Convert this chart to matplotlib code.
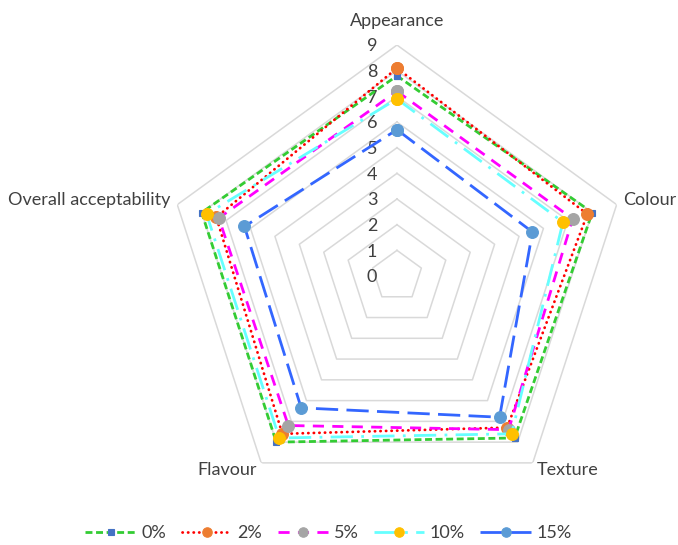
import numpy as np
import matplotlib.pyplot as plt

categories = ["Appearance", "Colour", "Texture", "Flavour", "Overall acceptability"]
series_names = ["0%", "2%", "5%", "10%", "15%"]
scores = {
    "0%": [7.8, 8.0, 7.8, 8.0, 8.0],
    "2%": [8.1, 7.8, 7.3, 7.6, 7.4],
    "5%": [7.2, 7.2, 7.4, 7.2, 7.3],
    "10%": [6.9, 6.8, 7.6, 7.8, 7.8],
    "15%": [5.7, 5.55, 6.8, 6.35, 6.25],
}
ticks = list(range(0, 10))

line_colors = ["#33CC33", "#FF0000", "#FF00FF", "#66FFFF", "#3366FF"]
marker_colors = ["#4472C4", "#ED7D31", "#A5A5A5", "#FFC000", "#5B9BD5"]
markers = ["s", "o", "o", "o", "o"]
marker_sizes = [5, 8.5, 8.5, 8.5, 8.5]
dash_styles = [(0, (2.5, 1.3)), (0, (0.1, 1.9)), (0, (4, 3)),
               (0, (8, 3, 1, 3)), (0, (8, 3))]

plt.rcParams["font.family"] = ["Lato", "DejaVu Sans"]
text_color = "#404040"
fs = 13

fig = plt.figure(figsize=(6.78, 5.45), dpi=100)
ax = fig.add_axes([0.2448, 0.0697, 0.6814, 0.8477], projection="polar")
ax.set_theta_offset(np.pi / 2)
ax.set_theta_direction(-1)
ax.set_ylim(0, 9)
ax.grid(False)
ax.spines["polar"].set_visible(False)
ax.set_xticks([])
ax.set_yticks([])
ax.patch.set_alpha(0)

angles = np.linspace(0, 2 * np.pi, len(categories), endpoint=False)
closed = np.append(angles, angles[0])

# pentagon rings
for t in ticks[1:]:
    ax.plot(closed, [t] * len(closed), color="#D9D9D9", lw=1.1, zorder=1)

# value labels along the top spoke
for t in ticks:
    ax.annotate(str(t), (0, t), xytext=(-18, -1), textcoords="offset points",
                ha="center", va="center", fontsize=fs, color=text_color)

# category labels
label_pos = [((0, 17), "center"), ((5, 3), "left"), ((3, -5), "left"),
             ((-3, -5), "right"), ((-5, 3), "right")]
for ang, name, (off, ha) in zip(angles, categories, label_pos):
    ax.annotate(name, (ang, 9), xytext=off, textcoords="offset points",
                ha=ha, va="center", fontsize=fs, color=text_color)

for i, name in enumerate(series_names):
    vals = scores[name] + [scores[name][0]]
    ax.plot(closed, vals, color=line_colors[i], lw=2, linestyle=dash_styles[i],
            dash_capstyle="round" if i == 1 else "butt",
            marker=markers[i], markersize=marker_sizes[i],
            markerfacecolor=marker_colors[i], markeredgecolor=marker_colors[i],
            markeredgewidth=0.8, label=name, zorder=3 + i, clip_on=False)

leg = fig.legend(loc="center", bbox_to_anchor=(0.4845, 0.022), ncol=5,
                 frameon=False, handlelength=2.8, columnspacing=0.85,
                 handletextpad=0.3, markerscale=0.8, fontsize=fs,
                 labelcolor=text_color)

fig.savefig("out.png", dpi=100)
